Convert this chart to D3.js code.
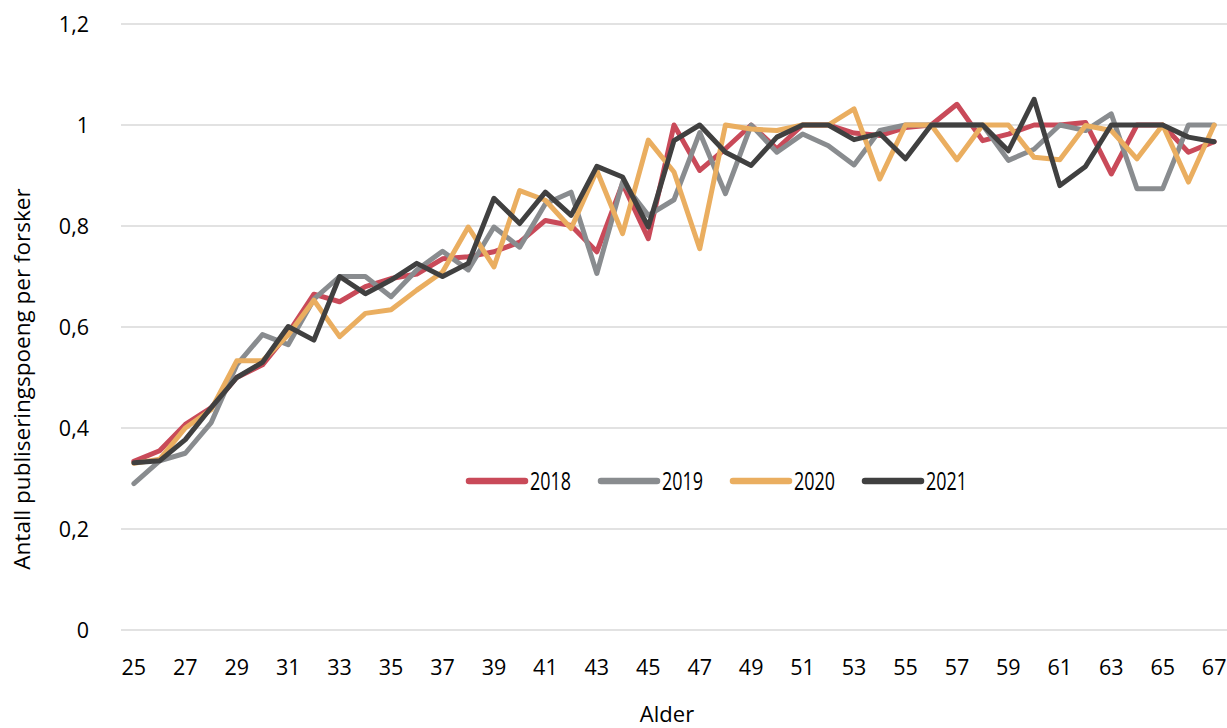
<!DOCTYPE html>
<html lang="no">
<head>
    <meta charset="UTF-8">
    <title>Publiseringspoeng per forsker etter alder</title>
    <script src="https://cdn.jsdelivr.net/npm/d3@7"></script>
    <style>
        body { margin: 0; background: #fff; }
        svg { display: block; }
        text { font-family: "Open Sans", sans-serif; fill: #000; }
    </style>
</head>
<body>
<div id="chart"></div>
<script>
// ages on the x axis
const ages = [25, 26, 27, 28, 29, 30, 31, 32, 33, 34, 35, 36, 37, 38, 39, 40, 41, 42, 43, 44, 45,
              46, 47, 48, 49, 50, 51, 52, 53, 54, 55, 56, 57, 58, 59, 60, 61, 62, 63, 64, 65, 66, 67];

// values, one per age
const values2018 = [0.334, 0.355, 0.407, 0.44, 0.50, 0.525, 0.588, 0.665, 0.65, 0.68, 0.696, 0.705, 0.735, 0.739,
                    0.749, 0.768, 0.811, 0.801, 0.749, 0.884, 0.775, 1.0, 0.91, 0.953, 1.0, 0.953, 1.0, 1.0,
                    0.984, 0.979, 0.995, 1.0, 1.041, 0.969, 0.982, 1.0, 1.0, 1.005, 0.903, 1.0, 1.0, 0.946, 0.967];
const values2019 = [0.29, 0.335, 0.35, 0.41, 0.525, 0.585, 0.565, 0.655, 0.70, 0.70, 0.66, 0.713, 0.75, 0.713,
                    0.798, 0.758, 0.844, 0.867, 0.706, 0.887, 0.821, 0.852, 0.985, 0.864, 1.0, 0.946, 0.982, 0.959,
                    0.921, 0.989, 1.0, 1.0, 1.0, 1.0, 0.93, 0.952, 1.0, 0.989, 1.022, 0.874, 0.874, 1.0, 1.0];
const values2020 = [0.33, 0.338, 0.40, 0.436, 0.533, 0.533, 0.584, 0.653, 0.581, 0.627, 0.634, 0.673, 0.709, 0.798,
                    0.719, 0.87, 0.851, 0.795, 0.91, 0.785, 0.97, 0.907, 0.755, 1.0, 0.992, 0.989, 1.0, 1.0,
                    1.032, 0.893, 1.0, 1.0, 0.931, 1.0, 1.0, 0.936, 0.931, 0.999, 0.989, 0.933, 1.0, 0.887, 1.0];
const values2021 = [0.331, 0.335, 0.377, 0.44, 0.50, 0.53, 0.601, 0.574, 0.70, 0.666, 0.693, 0.726, 0.70, 0.726,
                    0.855, 0.805, 0.867, 0.821, 0.918, 0.897, 0.798, 0.969, 1.0, 0.946, 0.92, 0.976, 1.0, 1.0,
                    0.971, 0.983, 0.933, 1.0, 1.0, 1.0, 0.949, 1.051, 0.88, 0.918, 1.0, 1.0, 1.0, 0.976, 0.967];

const seriesNames = ["2018", "2019", "2020", "2021"];
const yTicks = [0, 0.2, 0.4, 0.6, 0.8, 1.0, 1.2];

const series = [
    { name: seriesNames[0], values: values2018, color: "#c94a59" },
    { name: seriesNames[1], values: values2019, color: "#898c8f" },
    { name: seriesNames[2], values: values2020, color: "#eaae60" },
    { name: seriesNames[3], values: values2021, color: "#404040" }
];

const width = 1227, height = 728;
const margin = { top: 24, right: 0, bottom: 98, left: 121 };

const svg = d3.select("#chart").append("svg")
    .attr("width", width)
    .attr("height", height);

const x = d3.scaleBand()
    .domain(ages)
    .range([margin.left, width - margin.right]);
const cx = a => x(a) + x.bandwidth() / 2;

const y = d3.scaleLinear()
    .domain([0, 1.2])
    .range([height - margin.bottom, margin.top]);

// gridlines
svg.append("g")
    .selectAll("line")
    .data(yTicks)
    .join("line")
    .attr("x1", margin.left)
    .attr("x2", width - margin.right)
    .attr("y1", d => y(d))
    .attr("y2", d => y(d))
    .attr("stroke", "#e2e2e2")
    .attr("stroke-width", 2);

// y axis labels (comma decimal)
const yAxis = d3.axisLeft(y)
    .tickValues(yTicks)
    .tickSize(0)
    .tickPadding(0)
    .tickFormat(d => d3.format(".1~f")(d).replace(".", ","));

svg.append("g")
    .attr("transform", "translate(89,0)")
    .call(yAxis)
    .call(g => g.select(".domain").remove())
    .call(g => g.selectAll("text")
        .style("font-family", "'Open Sans', sans-serif")
        .style("font-size", "21.5px")
        .attr("dy", "0.35em"));

// x axis labels, every second age
const xAxis = d3.axisBottom(x)
    .tickValues(ages.filter((a, i) => i % 2 === 0))
    .tickSize(0)
    .tickPadding(0);

svg.append("g")
    .attr("transform", `translate(0, ${height - margin.bottom + 45})`)
    .call(xAxis)
    .call(g => g.select(".domain").remove())
    .call(g => g.selectAll("text")
        .style("font-family", "'Open Sans', sans-serif")
        .style("font-size", "21.5px")
        .attr("dy", "0"));

// lines
const line = d3.line()
    .x((d, i) => cx(ages[i]))
    .y(d => y(d));

svg.append("g")
    .selectAll("path")
    .data(series)
    .join("path")
    .attr("d", d => line(d.values))
    .attr("fill", "none")
    .attr("stroke", d => d.color)
    .attr("stroke-width", 5)
    .attr("stroke-linejoin", "round")
    .attr("stroke-linecap", "round");

// legend
const legend = svg.append("g")
    .attr("transform", "translate(469, 481)");

const item = legend.selectAll("g")
    .data(series)
    .join("g")
    .attr("transform", (d, i) => `translate(${i * 132}, 0)`);

item.append("line")
    .attr("x1", 0)
    .attr("x2", 56)
    .attr("stroke", d => d.color)
    .attr("stroke-width", 6.5)
    .attr("stroke-linecap", "round");

item.append("text")
    .attr("x", 61)
    .attr("dy", "0.36em")
    .attr("textLength", 41)
    .attr("lengthAdjust", "spacingAndGlyphs")
    .style("font-size", "26px")
    .text(d => d.name);

// axis titles
svg.append("text")
    .attr("x", 667)
    .attr("y", 722)
    .attr("text-anchor", "middle")
    .style("font-size", "22px")
    .text("Alder");

svg.append("text")
    .attr("transform", "rotate(-90)")
    .attr("x", -379)
    .attr("y", 30)
    .attr("text-anchor", "middle")
    .style("font-size", "22.5px")
    .text("Antall publiseringspoeng per forsker");
</script>
</body>
</html>
